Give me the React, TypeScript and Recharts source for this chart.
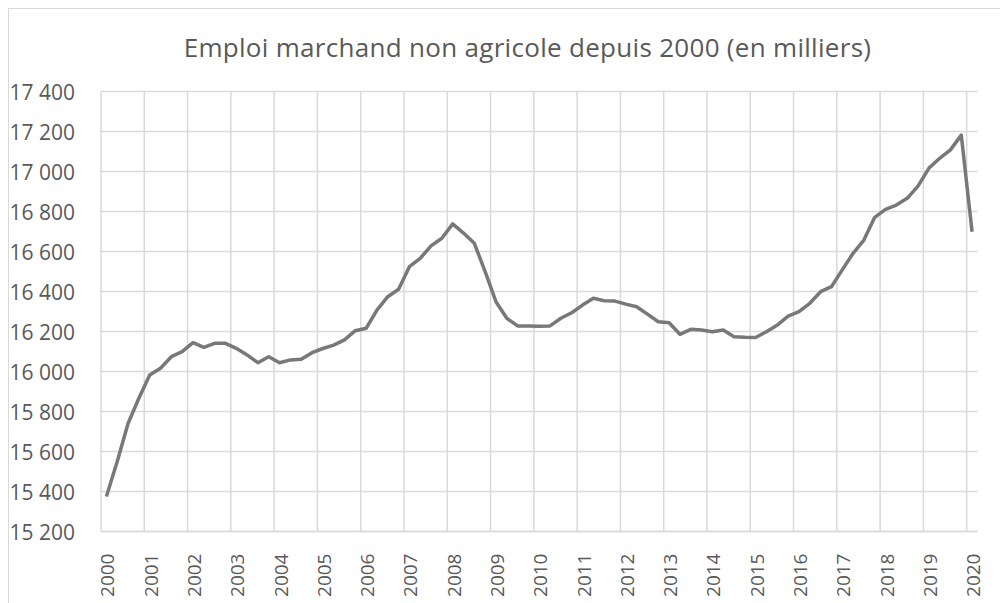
import React from 'react';
import { LineChart, Line, XAxis, YAxis, CartesianGrid, ReferenceLine } from 'recharts';

const title = 'Emploi marchand non agricole depuis 2000 (en milliers)';

const yearLabels = ['2000','2001','2002','2003','2004','2005','2006','2007','2008','2009','2010','2011','2012','2013','2014','2015','2016','2017','2018','2019','2020'];

// Quarterly values, 2000 Q1 .. 2020 Q1
const employment = [
  15375, 15550, 15740, 15866,
  15983, 16016, 16074, 16099,
  16144, 16121, 16141, 16141,
  16116, 16083, 16044, 16074,
  16044, 16058, 16061, 16094,
  16115, 16132, 16158, 16204,
  16216, 16307, 16374, 16411,
  16524, 16566, 16628, 16666,
  16738, 16692, 16641, 16499,
  16349, 16266, 16228, 16228,
  16226, 16228, 16266, 16294,
  16332, 16366, 16354, 16352,
  16337, 16324, 16287, 16249,
  16244, 16186, 16211, 16207,
  16199, 16207, 16174, 16171,
  16170, 16199, 16232, 16277,
  16299, 16341, 16399, 16424,
  16508, 16591, 16657, 16771,
  16811, 16832, 16866, 16927,
  17016, 17066, 17108, 17182,
  16699,
];

const yTicks = [15200, 15400, 15600, 15800, 16000, 16200, 16400, 16600, 16800, 17000, 17200, 17400];
const quartersPerYear = 4;

const data = employment.map((v, i) => ({ q: i, v }));
const yearTicks = yearLabels.map((_, k) => k * quartersPerYear);
const yearBoundaries = yearLabels.map((_, k) => k * quartersPerYear - 0.5);

const FONT = '"Open Sans", sans-serif';
const TEXT = '#595959';
const GRID = '#d9d9d9';

const fmt = (n: number) => {
  const s = String(n);
  return s.slice(0, s.length - 3) + ' ' + s.slice(-3);
};

const XTick = (props: any) => {
  const { x, y, payload } = props;
  const label = yearLabels[Math.round(payload.value / quartersPerYear)];
  return (
    <text
      x={0}
      y={0}
      transform={`translate(${x + 1},${y + 14}) rotate(-90)`}
      textAnchor="end"
      dominantBaseline="central"
      fontFamily={FONT}
      fontSize={19}
      fill={TEXT}
    >
      {label}
    </text>
  );
};

const YTick = (props: any) => {
  const { y, payload } = props;
  return (
    <text
      x={66}
      y={y}
      textAnchor="end"
      dominantBaseline="central"
      fontFamily={FONT}
      fontSize={21}
      fill={TEXT}
    >
      {fmt(payload.value)}
    </text>
  );
};

export default function App() {
  return (
    <div
      style={{
        position: 'relative',
        width: 1000,
        height: 595,
        boxSizing: 'border-box',
        borderLeft: `1px solid ${GRID}`,
        borderTop: `1px solid ${GRID}`,
        background: '#fff',
        overflow: 'hidden',
      }}
    >
      <div
        style={{
          position: 'absolute',
          left: 0,
          width: 1037,
          top: 21,
          textAlign: 'center',
          fontFamily: FONT,
          fontSize: 26,
          letterSpacing: 0.3,
          color: TEXT,
          lineHeight: '34px',
          whiteSpace: 'nowrap',
        }}
      >
        {title}
      </div>
      <LineChart
        width={999}
        height={594}
        data={data}
        margin={{ top: 82.5, right: 30.5, bottom: 11.5, left: 0 }}
      >
        <CartesianGrid vertical={false} stroke={GRID} strokeWidth={1.5} />
        {yearBoundaries.map((b) => (
          <ReferenceLine key={b} x={b} stroke={GRID} strokeWidth={1.5} />
        ))}
        <XAxis
          dataKey="q"
          type="number"
          domain={[-0.5, 80.5]}
          ticks={yearTicks}
          interval={0}
          height={60}
          tick={<XTick />}
          tickLine={false}
          axisLine={{ stroke: GRID, strokeWidth: 1.5 }}
          allowDataOverflow
        />
        <YAxis
          type="number"
          domain={[15200, 17400]}
          ticks={yTicks}
          interval={0}
          width={92}
          tick={<YTick />}
          tickLine={false}
          axisLine={false}
          allowDataOverflow
        />
        <Line
          type="linear"
          dataKey="v"
          stroke="#787878"
          strokeWidth={3.5}
          strokeLinejoin="round"
          dot={false}
          activeDot={false}
          isAnimationActive={false}
        />
      </LineChart>
    </div>
  );
}
